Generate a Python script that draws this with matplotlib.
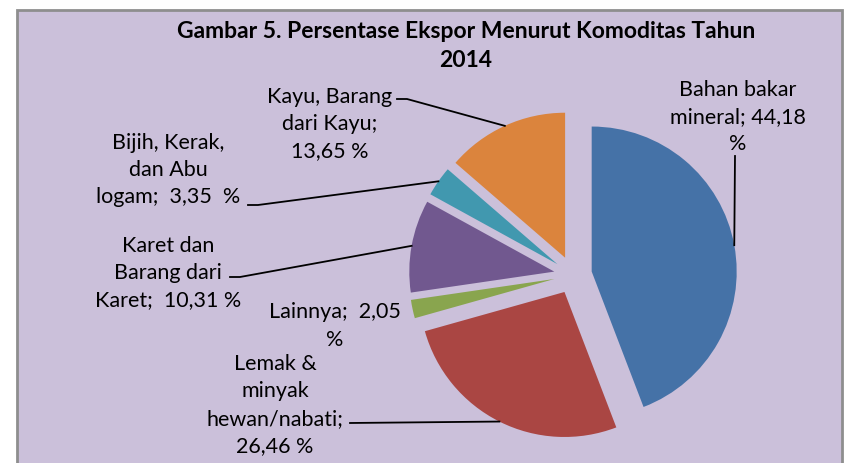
import numpy as np
import matplotlib
matplotlib.use('Agg')
import matplotlib.pyplot as plt
from matplotlib.patches import Rectangle

# data
komoditas = ['Bahan bakar\nmineral; 44,18\n%',
             'Lemak &\nminyak\nhewan/nabati;\n26,46 %',
             'Lainnya;  2,05\n%',
             'Karet dan\nBarang dari\nKaret;  10,31 %',
             'Bijih, Kerak,\ndan Abu\nlogam;  3,35  %',
             'Kayu, Barang\ndari Kayu;\n13,65 %']
persen = [44.18, 26.46, 2.05, 10.31, 3.35, 13.65]
warna = ['#4572a7', '#aa4643', '#89a54e', '#71588f', '#4198af', '#db843d']

W, H = 845, 463
plt.rcParams['font.family'] = ['Lato', 'DejaVu Sans']

fig = plt.figure(figsize=(W / 100, H / 100), dpi=100)
fig.patch.set_facecolor('white')
ax = fig.add_axes([0, 0, 1, 1])

# chart area (bottom edge cut off in the reference)
ax.add_patch(Rectangle((17, -10), 825, H - 9.5 + 10, facecolor='#cbc0da',
                       edgecolor='#8e8e8e', lw=2, zorder=0))

wedges, _ = ax.pie(persen, colors=warna, radius=145, center=(573, H - 275),
                   startangle=90, counterclock=False, explode=[19] * len(persen),
                   wedgeprops=dict(linewidth=0))
ax.set_xlim(0, W)
ax.set_ylim(0, H)
ax.set_aspect('equal')
ax.axis('off')

def img(x, y):
    return x, H - y

# label positions (image pixel coords): center of text block
label_pos = [(738, 117), (275, 405), (335, 326), (168, 273), (168, 170), (330, 124)]
# leader line start points near the label (None = no leader line)
leader = [[(735, 156)],
          [(350, 423)],
          None,
          [(230, 277), (240, 277)],
          [(248, 205), (258, 205)],
          [(397, 99), (407, 99)]]

for w, lab, pos, ld in zip(wedges, komoditas, label_pos, leader):
    ax.text(*img(*pos), lab, ha='center', va='center', fontsize=15.5,
            linespacing=1.45, color='black', zorder=5)
    if ld is None:
        continue
    mid = np.deg2rad((w.theta1 + w.theta2) / 2)
    cx, cy = w.center
    ex, ey = cx + w.r * np.cos(mid), cy + w.r * np.sin(mid)
    pts = [img(*p) for p in ld] + [(ex, ey)]
    xs, ys = zip(*pts)
    ax.plot(xs, ys, color='black', lw=1.3, zorder=4)

ax.text(*img(466, 46), 'Gambar 5. Persentase Ekspor Menurut Komoditas Tahun\n2014',
        ha='center', va='center', fontsize=16.5, fontweight='bold',
        linespacing=1.45, zorder=5)

fig.savefig('out.png', dpi=100)
